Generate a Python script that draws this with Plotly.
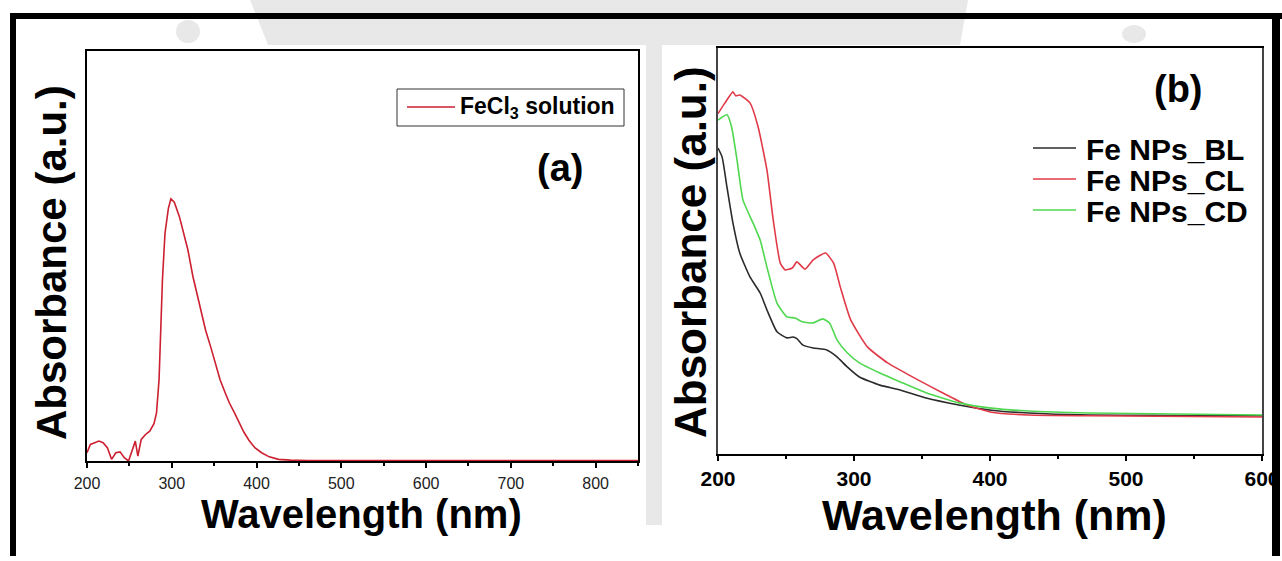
import plotly.graph_objects as go

W, H = 1282, 561
H_FIG = 556  # slightly shorter than the window so no scrollbar steals width

# ---------------- data: panel (a) FeCl3 solution ----------------
a_wavelength = [200, 204, 209, 214, 219, 224, 229, 234, 239, 244, 249, 254, 257, 260,
                264, 269, 274, 279, 282, 285, 289, 292, 296, 299, 303, 309, 314, 319,
                325, 330, 335, 340, 346, 351, 357, 363, 368, 374, 380, 385, 391, 398,
                406, 415, 426, 440, 460, 500, 550, 600, 650, 700, 750, 800, 850]
a_absorbance = [0.020, 0.040, 0.044, 0.048, 0.044, 0.032, 0.004, 0.020, 0.022, 0.008,
                0.000, 0.028, 0.048, 0.012, 0.052, 0.064, 0.072, 0.090, 0.116, 0.196,
                0.437, 0.550, 0.610, 0.633, 0.625, 0.590, 0.550, 0.510, 0.445, 0.400,
                0.357, 0.315, 0.275, 0.240, 0.196, 0.165, 0.140, 0.116, 0.090, 0.070,
                0.050, 0.032, 0.020, 0.010, 0.004, 0.002, 0.001, 0.001, 0.001, 0.001,
                0.001, 0.001, 0.001, 0.001, 0.001]

# ---------------- data: panel (b) Fe NPs ----------------
bl_wavelength = [200, 203, 206.6, 211, 216, 223.5, 231, 236, 243.4, 250.7, 255, 258, 262.5,
                 270, 280, 287.5, 295, 304, 319, 334, 353, 377, 401, 428, 473, 520, 560, 600]
bl_absorbance = [0.755, 0.733, 0.658, 0.569, 0.495, 0.436, 0.396, 0.354, 0.300, 0.285,
                 0.287, 0.283, 0.267, 0.260, 0.255, 0.238, 0.213, 0.188, 0.168, 0.156,
                 0.136, 0.119, 0.106, 0.099, 0.094, 0.093, 0.092, 0.092]

cl_wavelength = [200, 205, 211, 213, 216, 223.6, 229.5, 236, 240.6, 245.8, 249.4, 254.6,
                 258, 264, 270, 279, 285, 290, 297.5, 310, 324.7, 334, 347, 365, 383, 401,
                 428, 473, 600]
cl_absorbance = [0.840, 0.866, 0.894, 0.884, 0.886, 0.866, 0.807, 0.700, 0.577, 0.470,
                 0.453, 0.458, 0.473, 0.455, 0.478, 0.495, 0.470, 0.410, 0.330, 0.262,
                 0.223, 0.205, 0.181, 0.149, 0.119, 0.101, 0.094, 0.092, 0.089]

cd_wavelength = [200, 206.6, 210, 214, 218.4, 225.8, 231, 236, 243.4, 250.7, 256.6, 262.5,
                 270, 277, 282, 287.5, 295, 304, 319, 334, 353, 377, 401, 428, 473, 600]
cd_absorbance = [0.824, 0.837, 0.807, 0.725, 0.626, 0.569, 0.527, 0.460, 0.371, 0.337,
                 0.334, 0.324, 0.322, 0.332, 0.322, 0.280, 0.248, 0.223, 0.198, 0.176,
                 0.149, 0.124, 0.111, 0.104, 0.099, 0.094]

series_names = ["Fe NPs_BL", "Fe NPs_CL", "Fe NPs_CD"]
series_colors = ["#2b2b2b", "#e03a48", "#4fd84f"]
a_color = "#cc1f30"

a_ticks = [200, 300, 400, 500, 600, 700, 800]
b_ticks = [200, 300, 400, 500, 600]


def px(x):
    return x / W


def py(y):
    return 1 - y / H_FIG


FONT = "Liberation Sans, Arial, sans-serif"

fig = go.Figure()

fig.add_trace(go.Scatter(x=a_wavelength, y=a_absorbance, mode="lines",
                         line=dict(color=a_color, width=1.6),
                         name="FeCl<sub>3</sub> solution", xaxis="x", yaxis="y"))

for wl, ab, nm, col in zip([bl_wavelength, cl_wavelength, cd_wavelength],
                           [bl_absorbance, cl_absorbance, cd_absorbance],
                           series_names, series_colors):
    fig.add_trace(go.Scatter(x=wl, y=ab, mode="lines", name=nm,
                             line=dict(color=col, width=1.6, shape="spline", smoothing=0.5),
                             xaxis="x2", yaxis="y2"))

axis_common = dict(showgrid=False, zeroline=False, showline=True, mirror=True,
                   automargin=False)

fig.update_layout(
    template="none",
    width=W, height=H_FIG,
    margin=dict(l=0, r=0, t=0, b=0, pad=0, autoexpand=False),
    paper_bgcolor="white", plot_bgcolor="white",
    showlegend=False,
    font=dict(family=FONT, color="black"),
    xaxis=dict(domain=[px(87), px(638)], range=[200, 850], anchor="y",
               tickvals=a_ticks, ticks="outside", ticklen=5, tickwidth=1.5,
               tickcolor="black", linecolor="black", linewidth=2,
               minor=dict(dtick=50, tick0=200, ticks="outside", ticklen=3,
                          tickcolor="black", tickwidth=1.5),
               tickfont=dict(size=16, family=FONT, color="#222"),
               ticklabelstandoff=2, **axis_common),
    yaxis=dict(domain=[py(461), py(51)], range=[0, 0.99], anchor="x",
               showticklabels=False, ticks="", linecolor="black", linewidth=2,
               **axis_common),
    xaxis2=dict(domain=[px(718), px(1262)], range=[200, 600], anchor="y2",
                tickvals=b_ticks, ticks="outside", ticklen=5, tickwidth=1.5,
                tickcolor="black", linecolor="black", linewidth=2,
                minor=dict(dtick=50, tick0=200, ticks="outside", ticklen=3,
                           tickcolor="black", tickwidth=1.5),
                tickfont=dict(size=21, family=FONT, color="black", weight="bold"),
                ticklabelstandoff=0, **axis_common),
    yaxis2=dict(domain=[py(454), py(48)], range=[-0.0025, 1.0025], anchor="x2",
                showticklabels=False, ticks="", linecolor="#444", linewidth=1.5,
                **axis_common),
)

shapes = []
# light watermark background shapes
gray = "#e8e8e8"
shapes.append(dict(type="path", xref="paper", yref="paper", layer="below",
                   path=f"M {px(250)},{py(0)} L {px(968)},{py(0)} L {px(960)},{py(45)} L {px(268)},{py(45)} Z",
                   fillcolor=gray, line=dict(width=0)))
shapes.append(dict(type="circle", xref="paper", yref="paper", layer="below",
                   x0=px(176), x1=px(200), y0=py(43), y1=py(20),
                   fillcolor=gray, line=dict(width=0)))
shapes.append(dict(type="circle", xref="paper", yref="paper", layer="below",
                   x0=px(1122), x1=px(1146), y0=py(43), y1=py(25),
                   fillcolor=gray, line=dict(width=0)))
shapes.append(dict(type="rect", xref="paper", yref="paper", layer="below",
                   x0=px(646), x1=px(662), y0=py(525), y1=py(45),
                   fillcolor=gray, line=dict(width=0)))
# black frame (drawn as thick lines)
frame = [(10, 16, 13, 19, 1282), ]
shapes.append(dict(type="line", xref="paper", yref="paper",
                   x0=px(10), x1=px(1282), y0=py(16), y1=py(16),
                   line=dict(color="black", width=6)))
shapes.append(dict(type="line", xref="paper", yref="paper",
                   x0=px(13), x1=px(13), y0=py(13), y1=py(H_FIG),
                   line=dict(color="black", width=6)))
shapes.append(dict(type="line", xref="paper", yref="paper",
                   x0=px(1276), x1=px(1276), y0=py(13), y1=py(H_FIG),
                   line=dict(color="black", width=8)))
# legend (a)
shapes.append(dict(type="rect", xref="paper", yref="paper",
                   x0=px(397), x1=px(624), y0=py(126), y1=py(89),
                   fillcolor="white", line=dict(color="#333", width=1)))
shapes.append(dict(type="line", xref="paper", yref="paper",
                   x0=px(407), x1=px(455), y0=py(107), y1=py(107),
                   line=dict(color=a_color, width=1.6)))
# legend (b)
leg_y = [148, 179, 210]
for yy, col in zip(leg_y, series_colors):
    shapes.append(dict(type="line", xref="paper", yref="paper",
                       x0=px(1033), x1=px(1076), y0=py(yy), y1=py(yy),
                       line=dict(color=col, width=1.6)))

annotations = []


def ann(text, x, y, size, xanchor="center", yanchor="middle", angle=0, bold=True):
    annotations.append(dict(text=text, xref="paper", yref="paper", x=px(x), y=py(y),
                            xanchor=xanchor, yanchor=yanchor, showarrow=False,
                            textangle=angle,
                            font=dict(family=FONT, size=size, color="black",
                                      weight="bold" if bold else "normal")))


ann("Wavelength (nm)", 361, 514, 40)
ann("Wavelength (nm)", 994, 515, 43)
ann("Absorbance (a.u.)", 52, 263, 42, angle=-90)
ann("Absorbance (a.u.)", 690, 252, 44, angle=-90)
ann("(a)", 560, 168, 38)
ann("(b)", 1178, 89, 38)
ann("FeCl<sub>3</sub> solution", 458, 107, 23, xanchor="left")
for yy, nm in zip(leg_y, series_names):
    ann(nm, 1084, yy + 1, 30, xanchor="left")

fig.update_layout(shapes=shapes, annotations=annotations)

fig.write_html("out.html")
